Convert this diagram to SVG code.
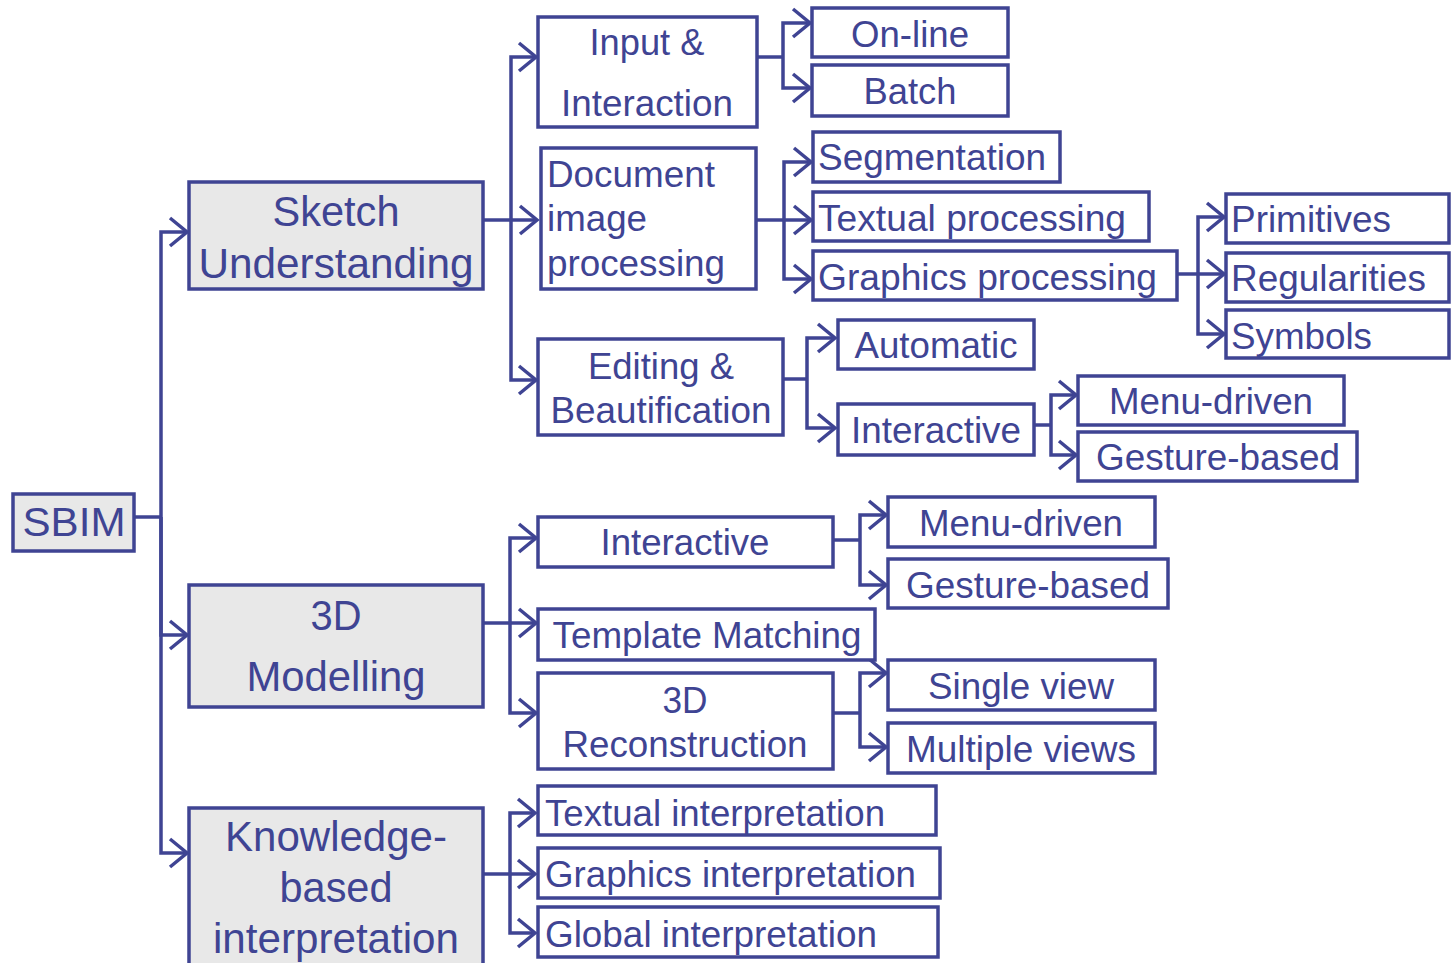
<svg xmlns="http://www.w3.org/2000/svg" width="1453" height="963" viewBox="0 0 1453 963">
  <style>
    .box { fill: #ffffff; stroke: #3F4493; stroke-width: 3.5; }
    .main { fill: #E8E8E8; stroke: #3F4493; stroke-width: 3.5; }
    .t { font-family: "Liberation Sans", Arial, sans-serif; font-size: 37px; fill: #3F4493; }
    .tb { font-family: "Liberation Sans", Arial, sans-serif; font-size: 42px; fill: #3F4493; }
    .c { text-anchor: middle; }
    .conn path { fill: none; stroke: #3F4493; stroke-width: 3.5; }
  </style>
  <defs>
    <marker id="arr" markerUnits="userSpaceOnUse" viewBox="-20 -17 24 34" refX="0" refY="0" markerWidth="24" markerHeight="34" orient="auto">
      <path d="M-17,-14 L0,0 L-17,14" fill="none" stroke="#3F4493" stroke-width="3.5"/>
    </marker>
  </defs>
  <rect width="1453" height="963" fill="#ffffff"/>

  <!-- connectors -->
  <g id="connectors" class="conn">
    <path d="M134,517 H161"/>
    <path d="M161,517 V232 H187" marker-end="url(#arr)"/>
    <path d="M161,517 V635 H187" marker-end="url(#arr)"/>
    <path d="M161,517 V853 H187" marker-end="url(#arr)"/>

    <path d="M483,220 H511"/>
    <path d="M511,220 V57 H536" marker-end="url(#arr)"/>
    <path d="M511,220 H537" marker-end="url(#arr)"/>
    <path d="M511,220 V380 H536" marker-end="url(#arr)"/>

    <path d="M757,57 H783"/>
    <path d="M783,57 V23 H810" marker-end="url(#arr)"/>
    <path d="M783,57 V88 H810" marker-end="url(#arr)"/>

    <path d="M756,220 H784"/>
    <path d="M784,220 V162 H811" marker-end="url(#arr)"/>
    <path d="M784,220 H811" marker-end="url(#arr)"/>
    <path d="M784,220 V279 H811" marker-end="url(#arr)"/>

    <path d="M1177,274 H1198"/>
    <path d="M1198,274 V217 H1224" marker-end="url(#arr)"/>
    <path d="M1198,274 H1224" marker-end="url(#arr)"/>
    <path d="M1198,274 V334 H1224" marker-end="url(#arr)"/>

    <path d="M783,379 H807"/>
    <path d="M807,379 V338 H835" marker-end="url(#arr)"/>
    <path d="M807,379 V428 H835" marker-end="url(#arr)"/>

    <path d="M1034,425 H1051"/>
    <path d="M1051,425 V395 H1076" marker-end="url(#arr)"/>
    <path d="M1051,425 V455 H1076" marker-end="url(#arr)"/>

    <path d="M483,623 H510"/>
    <path d="M510,623 V538 H536" marker-end="url(#arr)"/>
    <path d="M510,623 H536" marker-end="url(#arr)"/>
    <path d="M510,623 V713 H536" marker-end="url(#arr)"/>

    <path d="M833,540 H860"/>
    <path d="M860,540 V515 H886" marker-end="url(#arr)"/>
    <path d="M860,540 V585 H886" marker-end="url(#arr)"/>

    <path d="M833,713 H860"/>
    <path d="M860,713 V673 H886" marker-end="url(#arr)"/>
    <path d="M860,713 V747 H886" marker-end="url(#arr)"/>

    <path d="M484,874 H510"/>
    <path d="M510,874 V813 H535" marker-end="url(#arr)"/>
    <path d="M510,874 H535" marker-end="url(#arr)"/>
    <path d="M510,874 V933 H535" marker-end="url(#arr)"/>
  </g>

  <!-- root -->
  <g id="sbim">
    <rect class="main" x="13" y="494" width="121" height="57"/>
    <text class="t c" x="74" y="536" style="font-size:40px" textLength="103" lengthAdjust="spacingAndGlyphs">SBIM</text>
  </g>

  <!-- first level -->
  <g id="sketch-understanding">
    <rect class="main" x="189" y="182" width="294" height="107"/>
    <text class="tb c" x="336" y="226" textLength="127" lengthAdjust="spacingAndGlyphs">Sketch</text>
    <text class="tb c" x="336" y="278" textLength="275" lengthAdjust="spacingAndGlyphs">Understanding</text>
  </g>
  <g id="modelling-3d">
    <rect class="main" x="189" y="585" width="294" height="122"/>
    <text class="tb c" x="336" y="630" textLength="51" lengthAdjust="spacingAndGlyphs">3D</text>
    <text class="tb c" x="336" y="691" textLength="179" lengthAdjust="spacingAndGlyphs">Modelling</text>
  </g>
  <g id="knowledge-based">
    <rect class="main" x="189" y="808" width="294" height="170"/>
    <text class="tb c" x="336" y="851" textLength="222" lengthAdjust="spacingAndGlyphs">Knowledge-</text>
    <text class="tb c" x="336" y="902" textLength="113" lengthAdjust="spacingAndGlyphs">based</text>
    <text class="tb c" x="336" y="953" textLength="246" lengthAdjust="spacingAndGlyphs">interpretation</text>
  </g>

  <!-- sketch understanding branch -->
  <g id="input-interaction">
    <rect class="box" x="538" y="17" width="219" height="110"/>
    <text class="t c" x="647" y="55" textLength="115" lengthAdjust="spacingAndGlyphs">Input &amp;</text>
    <text class="t c" x="647" y="116" textLength="172" lengthAdjust="spacingAndGlyphs">Interaction</text>
  </g>
  <g id="document-image-processing">
    <rect class="box" x="541" y="148" width="215" height="141"/>
    <text class="t" x="547" y="187" textLength="168" lengthAdjust="spacingAndGlyphs">Document</text>
    <text class="t" x="547" y="231" textLength="100" lengthAdjust="spacingAndGlyphs">image</text>
    <text class="t" x="547" y="276" textLength="178" lengthAdjust="spacingAndGlyphs">processing</text>
  </g>
  <g id="editing-beautification">
    <rect class="box" x="538" y="339" width="245" height="96"/>
    <text class="t c" x="661" y="379" textLength="146" lengthAdjust="spacingAndGlyphs">Editing &amp;</text>
    <text class="t c" x="661" y="423" textLength="221" lengthAdjust="spacingAndGlyphs">Beautification</text>
  </g>
  <g id="on-line">
    <rect class="box" x="812" y="8" width="196" height="49"/>
    <text class="t c" x="910" y="47" textLength="118" lengthAdjust="spacingAndGlyphs">On-line</text>
  </g>
  <g id="batch">
    <rect class="box" x="812" y="65" width="196" height="51"/>
    <text class="t c" x="910" y="104" textLength="93" lengthAdjust="spacingAndGlyphs">Batch</text>
  </g>
  <g id="segmentation">
    <rect class="box" x="813" y="132" width="247" height="50"/>
    <text class="t" x="818" y="170" textLength="228" lengthAdjust="spacingAndGlyphs">Segmentation</text>
  </g>
  <g id="textual-processing">
    <rect class="box" x="813" y="192" width="336" height="49"/>
    <text class="t" x="818" y="231" textLength="308" lengthAdjust="spacingAndGlyphs">Textual processing</text>
  </g>
  <g id="graphics-processing">
    <rect class="box" x="813" y="251" width="364" height="49"/>
    <text class="t" x="818" y="290" textLength="339" lengthAdjust="spacingAndGlyphs">Graphics processing</text>
  </g>
  <g id="primitives">
    <rect class="box" x="1226" y="194" width="223" height="49"/>
    <text class="t" x="1231" y="232" textLength="160" lengthAdjust="spacingAndGlyphs">Primitives</text>
  </g>
  <g id="regularities">
    <rect class="box" x="1226" y="253" width="223" height="49"/>
    <text class="t" x="1231" y="291" textLength="195" lengthAdjust="spacingAndGlyphs">Regularities</text>
  </g>
  <g id="symbols">
    <rect class="box" x="1226" y="310" width="223" height="48"/>
    <text class="t" x="1231" y="349" textLength="141" lengthAdjust="spacingAndGlyphs">Symbols</text>
  </g>
  <g id="automatic">
    <rect class="box" x="838" y="320" width="196" height="49"/>
    <text class="t c" x="936" y="358" textLength="163" lengthAdjust="spacingAndGlyphs">Automatic</text>
  </g>
  <g id="interactive-editing">
    <rect class="box" x="838" y="404" width="196" height="51"/>
    <text class="t c" x="936" y="443" textLength="170" lengthAdjust="spacingAndGlyphs">Interactive</text>
  </g>
  <g id="menu-driven-editing">
    <rect class="box" x="1078" y="376" width="266" height="49"/>
    <text class="t c" x="1211" y="414" textLength="204" lengthAdjust="spacingAndGlyphs">Menu-driven</text>
  </g>
  <g id="gesture-based-editing">
    <rect class="box" x="1078" y="432" width="279" height="49"/>
    <text class="t c" x="1218" y="470" textLength="244" lengthAdjust="spacingAndGlyphs">Gesture-based</text>
  </g>

  <!-- 3D modelling branch -->
  <g id="interactive-modelling">
    <rect class="box" x="538" y="517" width="295" height="50"/>
    <text class="t c" x="685" y="555" textLength="169" lengthAdjust="spacingAndGlyphs">Interactive</text>
  </g>
  <g id="template-matching">
    <rect class="box" x="538" y="609" width="337" height="51"/>
    <text class="t c" x="707" y="648" textLength="309" lengthAdjust="spacingAndGlyphs">Template Matching</text>
  </g>
  <g id="reconstruction-3d">
    <rect class="box" x="538" y="673" width="295" height="96"/>
    <text class="t c" x="685" y="713" textLength="45" lengthAdjust="spacingAndGlyphs">3D</text>
    <text class="t c" x="685" y="757" textLength="245" lengthAdjust="spacingAndGlyphs">Reconstruction</text>
  </g>
  <g id="menu-driven-modelling">
    <rect class="box" x="888" y="497" width="267" height="50"/>
    <text class="t c" x="1021" y="536" textLength="204" lengthAdjust="spacingAndGlyphs">Menu-driven</text>
  </g>
  <g id="gesture-based-modelling">
    <rect class="box" x="888" y="559" width="280" height="49"/>
    <text class="t c" x="1028" y="598" textLength="244" lengthAdjust="spacingAndGlyphs">Gesture-based</text>
  </g>
  <g id="single-view">
    <rect class="box" x="888" y="660" width="267" height="50"/>
    <text class="t c" x="1021" y="699" textLength="186" lengthAdjust="spacingAndGlyphs">Single view</text>
  </g>
  <g id="multiple-views">
    <rect class="box" x="888" y="723" width="267" height="50"/>
    <text class="t c" x="1021" y="762" textLength="230" lengthAdjust="spacingAndGlyphs">Multiple views</text>
  </g>

  <!-- knowledge-based interpretation branch -->
  <g id="textual-interpretation">
    <rect class="box" x="538" y="786" width="398" height="49"/>
    <text class="t" x="545" y="826" textLength="340" lengthAdjust="spacingAndGlyphs">Textual interpretation</text>
  </g>
  <g id="graphics-interpretation">
    <rect class="box" x="538" y="848" width="402" height="50"/>
    <text class="t" x="545" y="887" textLength="371" lengthAdjust="spacingAndGlyphs">Graphics interpretation</text>
  </g>
  <g id="global-interpretation">
    <rect class="box" x="538" y="907" width="400" height="50"/>
    <text class="t" x="545" y="947" textLength="332" lengthAdjust="spacingAndGlyphs">Global interpretation</text>
  </g>
</svg>
